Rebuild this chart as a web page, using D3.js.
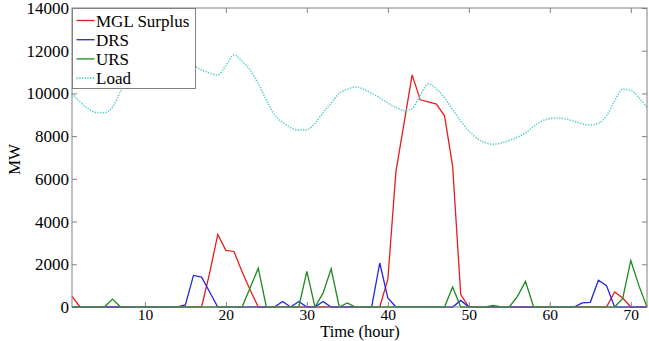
<!DOCTYPE html>
<html>
<head>
<meta charset="utf-8">
<script src="https://cdn.jsdelivr.net/npm/d3@7"></script>
<style>
  body { margin: 0; background: #fff; }
</style>
</head>
<body>
<div id="chart"></div>
<script>
// hourly values
var hours = [1,2,3,4,5,6,7,8,9,10,11,12,13,14,15,16,17,18,19,20,21,22,23,24,
  25,26,27,28,29,30,31,32,33,34,35,36,37,38,39,40,41,42,43,44,45,46,47,48,
  49,50,51,52,53,54,55,56,57,58,59,60,61,62,63,64,65,66,67,68,69,70,71,72];

var mglSurplus = [500,0,0,0,0,0,0,0,0,0,0,0,0,0,0,0,0,1600,3400,2650,2600,1650,800,0,
  0,0,0,0,0,0,0,0,0,0,0,0,0,0,0,1300,6350,8600,10870,9700,9600,9500,8950,6600,
  580,0,0,0,0,0,0,0,0,0,0,0,0,0,0,0,0,0,0,700,420,0,0,0];

var drs = [0,0,0,0,0,0,0,0,0,0,0,0,0,0,100,1480,1400,700,0,0,0,0,0,0,
  0,0,260,0,260,0,0,260,0,0,0,0,0,0,2060,420,0,0,0,0,0,0,0,0,
  310,0,0,0,0,0,0,0,0,0,0,0,0,0,0,190,220,1250,1000,0,0,0,0,0];

var urs = [0,0,0,0,0,370,0,0,0,0,0,0,0,0,0,0,0,0,0,0,0,0,900,1820,
  0,0,0,0,0,1670,0,650,1790,0,190,0,0,0,0,0,0,0,0,0,0,0,0,940,
  0,0,0,0,80,0,0,500,1200,0,0,0,0,0,0,0,0,0,0,0,400,2180,1000,0];

var load = [10000,9600,9280,9110,9100,9350,10100,10800,11300,11550,11600,11550,11450,11350,11300,11280,11100,10950,10870,11300,11800,11500,11100,10450,
  9700,9000,8650,8400,8280,8300,8600,9100,9550,10000,10200,10300,10200,10000,9800,9550,9350,9200,9300,9900,10450,10200,9800,9250,
  8700,8250,7900,7700,7620,7680,7800,7950,8150,8450,8700,8820,8850,8800,8700,8580,8520,8600,8950,9650,10200,10150,9800,9350];

var xTicks = [10, 20, 30, 40, 50, 60, 70];
var yTicks = [0, 2000, 4000, 6000, 8000, 10000, 12000, 14000];

var seriesNames = ["MGL Surplus", "DRS", "URS", "Load"];
var seriesColors = ["#e81c1c", "#2424e0", "#1e8a1e", "#56cccc"];

var W = 649, H = 341;
var margin = {top: 8, right: 2, bottom: 34, left: 72};
var width = W - margin.left - margin.right;
var height = H - margin.top - margin.bottom;
var serif = "'Liberation Serif', 'Times New Roman', Times, serif";

var svg = d3.select("#chart").append("svg")
  .attr("width", W)
  .attr("height", H)
  .append("g")
  .attr("transform", "translate(" + margin.left + "," + margin.top + ")");

var x = d3.scaleLinear().domain([1, 72]).range([0, width]);
var y = d3.scaleLinear().domain([0, 14000]).range([height, 0]);

function styleAxis(size) {
  return function(g) {
    g.attr("font-family", null).attr("font-size", null);
    g.select(".domain").remove();
    g.selectAll(".tick line").attr("stroke", "#808080");
    g.selectAll(".tick text")
      .attr("fill", "#000")
      .style("font-family", serif)
      .style("font-size", size + "px");
  };
}

svg.append("g")
  .attr("transform", "translate(0," + height + ")")
  .call(d3.axisBottom(x).tickValues(xTicks).tickSize(-5).tickPadding(1.5).tickFormat(d3.format("d")))
  .call(styleAxis(15.5));

svg.append("g")
  .call(d3.axisTop(x).tickValues(xTicks).tickSize(-5).tickFormat(""))
  .call(styleAxis(16));

svg.append("g")
  .call(d3.axisLeft(y).tickValues(yTicks).tickSize(-5).tickPadding(3).tickFormat(d3.format("d")))
  .call(styleAxis(17));

svg.append("g")
  .attr("transform", "translate(" + width + ",0)")
  .call(d3.axisRight(y).tickValues(yTicks).tickSize(-5).tickFormat(""))
  .call(styleAxis(17));

var allSeries = [mglSurplus, drs, urs, load];

allSeries.forEach(function(vals, i) {
  var line = d3.line()
    .x(function(d, j) { return x(hours[j]); })
    .y(function(d) { return y(d); });
  if (i === 3) line.curve(d3.curveMonotoneX);
  var path = svg.append("path")
    .datum(vals)
    .attr("fill", "none")
    .attr("stroke", seriesColors[i])
    .attr("d", line);
  if (i === 3) {
    path.attr("stroke-width", 1.6).attr("stroke-dasharray", "1.3,1.4");
  } else {
    path.attr("stroke-width", 1.3);
  }
});

// box
svg.append("rect")
  .attr("x", 0).attr("y", 0)
  .attr("width", width).attr("height", height)
  .attr("fill", "none")
  .attr("stroke", "#808080");

// legend
var legend = svg.append("g").attr("transform", "translate(0.5,0.5)");
legend.append("rect")
  .attr("width", 123).attr("height", 80)
  .attr("fill", "#fff")
  .attr("stroke", "#808080");

seriesNames.forEach(function(name, i) {
  var cy = 12 + i * 19.2;
  var row = legend.append("g");
  var l = row.append("line")
    .attr("x1", 4).attr("x2", 22)
    .attr("y1", cy).attr("y2", cy)
    .attr("stroke", seriesColors[i]);
  if (i === 3) {
    l.attr("stroke-width", 1.6).attr("stroke-dasharray", "1.3,1.4");
  } else {
    l.attr("stroke-width", 1.3);
  }
  row.append("text")
    .attr("x", 23.5).attr("y", cy + 6)
    .style("font-family", serif)
    .style("font-size", "17px")
    .text(name);
});

// axis labels
svg.append("text")
  .attr("x", 288)
  .attr("y", height + 30)
  .attr("text-anchor", "middle")
  .style("font-family", serif)
  .style("font-size", "16.5px")
  .text("Time (hour)");

svg.append("text")
  .attr("transform", "translate(-52," + (height / 2 + 2) + ") rotate(-90)")
  .attr("text-anchor", "middle")
  .style("font-family", serif)
  .style("font-size", "17px")
  .text("MW");
</script>
</body>
</html>
